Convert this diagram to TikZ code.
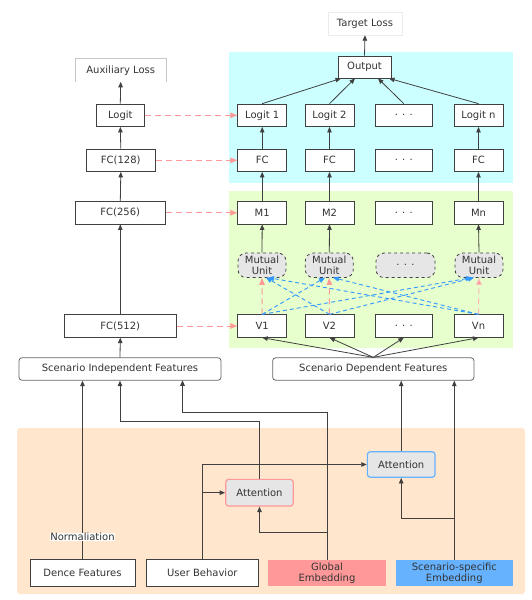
\documentclass[tikz,border=0pt]{standalone}
\usepackage{fontspec}
\setmainfont{DejaVu Sans}
\usetikzlibrary{arrows.meta,positioning}
\definecolor{txt}{HTML}{333333}
\definecolor{ln}{HTML}{404040}
\definecolor{cyanbg}{HTML}{CCFFFF}
\definecolor{greenbg}{HTML}{E6FFCC}
\definecolor{orangebg}{HTML}{FFE6CC}
\definecolor{pinkc}{HTML}{FF9999}
\definecolor{bluec}{HTML}{66B2FF}
\definecolor{bluedash}{HTML}{3399FF}
\definecolor{grayfill}{HTML}{E6E6E6}
\tikzset{
  base/.style={font=\fontsize{10}{11.5}\selectfont, text=txt, inner sep=0pt, align=center},
  box/.style={base, draw=ln, fill=white, line width=0.8pt, minimum height=22.5pt},
  rbox/.style={box, rounded corners=3pt, draw=black!60},
  mu/.style={base, draw=ln, fill=grayfill, dashed, line width=0.8pt, rounded corners=8pt, minimum height=24.5pt, minimum width=48pt},
  att/.style={base, fill=grayfill, rounded corners=3pt, line width=1.2pt},
  arr/.style={draw=ln, line width=0.8pt, -{Triangle[length=5.5pt,width=4.5pt]}},
  parr/.style={draw=pinkc, line width=1pt, dash pattern=on 6pt off 4pt, -{Triangle[length=7pt,width=5.5pt,fill=pinkc]}},
  barr/.style={draw=bluedash, line width=0.9pt, dash pattern=on 4pt off 3pt, -{Triangle[length=6pt,width=5pt,fill=bluedash]}},
}
\begin{document}
\begin{tikzpicture}[x=1pt,y=-1pt]
\useasboundingbox (0,0) rectangle (532,600);
% backgrounds
\fill[cyanbg] (229,52) rectangle (513,183);
\fill[greenbg] (229,191) rectangle (513,348);
\fill[orangebg, rounded corners=3pt] (17,428) rectangle (525,594);

% top
\node[base, draw=black!8, minimum width=74pt, minimum height=23pt] (tl) at (365,23.5) {Target Loss};
\node[base, minimum width=90pt, minimum height=22.7pt] (aux) at (120.7,70.3) {Auxiliary Loss};
\draw[black!22, line width=0.8pt] (aux.south west) -- (aux.north west) -- (aux.north east) -- (aux.south east);

% left column
\node[box, minimum width=48.7pt] (logit) at (120.3,115.3) {Logit};
\node[box, minimum width=69.7pt] (fc128) at (120.8,160.3) {FC(128)};
\node[box, minimum width=90.7pt] (fc256) at (120.3,212.8) {FC(256)};
\node[box, minimum width=112.7pt] (fc512) at (120.3,326) {FC(512)};
\node[rbox, minimum width=202pt] (sif) at (120,369) {Scenario Independent Features};
\node[rbox, minimum width=201.3pt] (sdf) at (373.3,369) {Scenario Dependent Features};

% output
\node[box, minimum width=53pt] (out) at (364.5,67.2) {Output};

% logit row
\node[box, minimum width=49pt] (l1) at (262.2,115.3) {Logit 1};
\node[box, minimum width=49pt] (l2) at (329.5,115.3) {Logit 2};
\node[box, minimum width=56.3pt] (l3) at (403.8,115.3) {. . .};
\node[box, minimum width=49pt] (l4) at (478.5,115.3) {Logit n};
% fc row
\node[box, minimum width=49pt] (f1) at (262.2,160.3) {FC};
\node[box, minimum width=49pt] (f2) at (329.5,160.3) {FC};
\node[box, minimum width=56.3pt] (f3) at (403.8,160.3) {. . .};
\node[box, minimum width=49pt] (f4) at (478.5,160.3) {FC};
% M row
\node[box, minimum width=49pt] (m1) at (262.2,212.8) {M1};
\node[box, minimum width=49pt] (m2) at (329.5,212.8) {M2};
\node[box, minimum width=56.3pt] (m3) at (403.8,212.8) {. . .};
\node[box, minimum width=49pt] (m4) at (478.5,212.8) {Mn};
% mutual units
\node[mu] (u1) at (262,265.3) {Mutual\\Unit};
\node[mu] (u2) at (329.3,265.3) {Mutual\\Unit};
\node[mu, minimum width=59pt] (u3) at (405.5,265.3) {. . .};
\node[mu] (u4) at (479,265.3) {Mutual\\Unit};
% V row
\node[box, minimum width=49pt] (v1) at (262.2,326) {V1};
\node[box, minimum width=49pt] (v2) at (329.5,326) {V2};
\node[box, minimum width=56.3pt] (v3) at (403.8,326) {. . .};
\node[box, minimum width=49pt] (v4) at (478.5,326) {Vn};

% bottom boxes
\node[box, minimum width=105pt, minimum height=27pt] (dence) at (82.5,572.5) {Dence Features};
\node[box, minimum width=112.7pt, minimum height=27pt] (ub) at (202.3,572.5) {User Behavior};
\node[base, fill=pinkc, minimum width=118pt, minimum height=26pt] (ge) at (327,573) {Global\\Embedding};
\node[base, fill=bluec, minimum width=116.7pt, minimum height=26pt] (se) at (454.3,573) {Scenario-specific\\Embedding};
\node[att, draw=pinkc, minimum width=67.6pt, minimum height=26.7pt] (att1) at (259.5,492.7) {Attention};
\node[att, draw=bluec, minimum width=67.7pt, minimum height=25.6pt] (att2) at (401.2,464.5) {Attention};

% left column arrows
\draw[arr] (sif.north) -- (fc512.south);
\draw[arr] (fc512.north) -- (fc256.south);
\draw[arr] (fc256.north) -- (fc128.south);
\draw[arr] (fc128.north) -- (logit.south);
\draw[arr] (logit.north) -- (aux.south);
\draw[arr] (out.north) -- (tl.south);

% pink dashed horizontal
\draw[parr] (logit.east) -- (l1.west);
\draw[parr] (fc128.east) -- (f1.west);
\draw[parr] (fc256.east) -- (m1.west);
\draw[parr] (fc512.east) -- (v1.west);

% to output
\coordinate (o1) at (341,78.4);
\coordinate (o2) at (355,78.4);
\coordinate (o3) at (378,78.4);
\coordinate (o4) at (389,78.4);
\draw[arr] (l1.north) -- (o1);
\draw[arr] (l2.north) -- (o2);
\draw[arr] (l3.north) -- (o3);
\draw[arr] (l4.north) -- (o4);

% column stacks
\foreach \i in {1,2,4}{
  \draw[arr] (f\i.north) -- (l\i.south);
  \draw[arr] (m\i.north) -- (f\i.south);
  \draw[arr] (u\i.north) -- (m\i.south);
}
\draw[parr] (v1.north) -- (u1.south);
\draw[parr] (v2.north) -- (u2.south);
\draw[parr, draw=pinkc!70] (v4.north) -- (u4.south);

% blue dashed cross
\coordinate (u1a) at (266,277.6);
\coordinate (u1b) at (268,277.6);
\coordinate (u2a) at (325,277.6);
\coordinate (u2b) at (333,277.6);
\coordinate (u4a) at (472,277.6);
\coordinate (u4b) at (474,277.6);
\draw[barr] (v1.north) -- (u2a);
\draw[barr] (v1.north) -- (u4a);
\draw[barr] (v2.north) -- (u1a);
\draw[barr] (v2.north) -- (u4b);
\draw[barr] (v4.north) -- (u1b);
\draw[barr] (v4.north) -- (u2b);

% sdf to V
\draw[arr] (sdf.north) -- (v1.south);
\draw[arr] (sdf.north) -- (v2.south);
\draw[arr] (sdf.north) -- (v3.south);
\draw[arr] (sdf.north) -- (v4.south);

% bottom connectors
\draw[arr] (dence.north) -- node[pos=0.12, fill=white, inner sep=1pt, base] {Normaliation} (dence.north |- sif.south);
\draw[arr] (att1.north) -- (att1.north |- 0,421) -| (sif.south);
\coordinate (sif3) at (182.5,380.25);
\draw[arr] (ge.north) -- (ge.north |- 0,412.5) -| (sif3);
\coordinate (gej) at (327,532.3);
\draw[arr] (gej) -| (att1.south);
\draw[arr] (ub.north) |- (att2.west);
\coordinate (ubj) at (202.3,492.7);
\draw[arr] (ubj) -- (att1.west);
\draw[arr] (att2.north) -- (att2.north |- sdf.south);
\draw[arr] (se.north) -- (se.north |- sdf.south);
\coordinate (sej) at (454.3,518.3);
\draw[arr] (sej) -| (att2.south);
\end{tikzpicture}
\end{document}
